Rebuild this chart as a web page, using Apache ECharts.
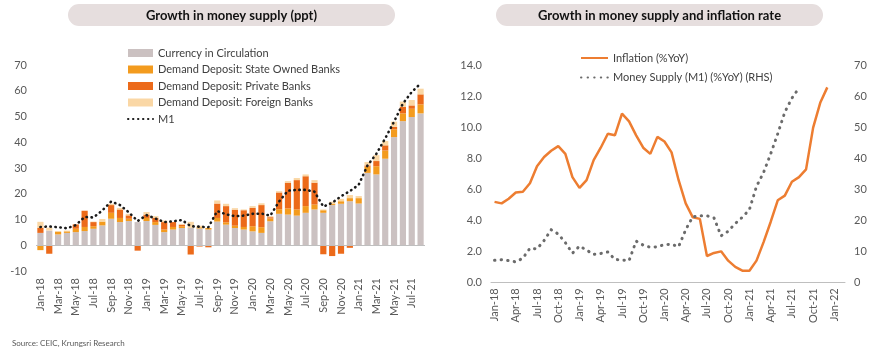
<!DOCTYPE html>
<html>
<head>
<meta charset="utf-8">
<script src="https://cdn.jsdelivr.net/npm/echarts@6/dist/echarts.min.js"></script>
<style>
html,body{margin:0;padding:0;background:#fff;}
#c{width:870px;height:354px;}
</style>
</head>
<body>
<div id="c"></div>
<script>
// ---------- Left chart data ----------
const monthsL = ['Jan-18','Feb-18','Mar-18','Apr-18','May-18','Jun-18','Jul-18','Aug-18','Sep-18','Oct-18','Nov-18','Dec-18',
'Jan-19','Feb-19','Mar-19','Apr-19','May-19','Jun-19','Jul-19','Aug-19','Sep-19','Oct-19','Nov-19','Dec-19',
'Jan-20','Feb-20','Mar-20','Apr-20','May-20','Jun-20','Jul-20','Aug-20','Sep-20','Oct-20','Nov-20','Dec-20',
'Jan-21','Feb-21','Mar-21','Apr-21','May-21','Jun-21','Jul-21','Aug-21'];
const currency = [4.8,5.7,4.2,4.8,5.1,5.5,6.4,7.7,10.3,9.0,9.4,9.0,
9.4,7.9,5.1,6.1,6.7,6.7,6.5,6.1,9.2,8.0,6.7,6.1,
5.4,4.8,9.3,12.2,11.9,11.5,12.6,13.9,12.6,15.6,16.1,17.1,
16.2,28.1,27.5,33.6,42.0,48.2,49.8,51.2];
const stateOwned = [-1.9,0,1.1,0.6,1.3,1.6,1.0,1.5,2.3,1.6,0.9,0,
1.2,1.1,1.0,1.0,0.7,0,0.5,0.6,1.4,0.9,0.9,1.0,
2.0,2.2,1.1,1.8,2.4,2.4,2.6,1.9,1.0,0.4,1.0,1.2,
2.1,2.4,3.2,3.2,3.0,3.0,3.2,3.5];
const privateBanks = [2.0,-3.3,0,0,1.7,6.3,1.6,0,3.0,3.3,1.3,-2.1,
1.3,1.6,2.9,1.9,0.6,-3.6,-0.5,-0.8,5.6,6.3,6.2,6.5,
7.1,8.6,0.5,6.5,10.0,11.4,11.6,8.5,-3.5,-4.2,-3.3,-1.0,
0,0.5,2.0,2.0,1.0,2.5,1.3,3.9];
const foreignBanks = [2.3,1.1,0,0.3,0,0,0.2,1.0,0.5,0.6,0.6,0,
1.0,0.7,0.6,0,0.3,2.4,0.6,0,1.2,0.9,0.6,0.3,
0.7,0.7,0.4,0.5,0.6,0.8,0.7,1.0,0.3,0.9,0.9,1.2,
0.8,1.3,2.3,1.7,2.0,2.1,2.1,2.2];
const m1 = [7.1,7.3,7.0,6.6,7.8,11.0,10.8,13.5,17.0,15.6,12.8,9.4,
11.7,10.4,9.0,9.3,9.8,7.4,7.2,7.0,13.3,12.0,11.3,11.5,
12.2,12.3,11.5,17.0,21.2,21.5,21.5,20.8,15.0,16.5,19.0,21.0,
23.5,31.0,35.5,41.5,48.0,55.0,59.5,62.8];
const yTicksL = [-10,0,10,20,30,40,50,60,70];

// ---------- Right chart data ----------
const monthsR = ['Jan-18','Feb-18','Mar-18','Apr-18','May-18','Jun-18','Jul-18','Aug-18','Sep-18','Oct-18','Nov-18','Dec-18',
'Jan-19','Feb-19','Mar-19','Apr-19','May-19','Jun-19','Jul-19','Aug-19','Sep-19','Oct-19','Nov-19','Dec-19',
'Jan-20','Feb-20','Mar-20','Apr-20','May-20','Jun-20','Jul-20','Aug-20','Sep-20','Oct-20','Nov-20','Dec-20',
'Jan-21','Feb-21','Mar-21','Apr-21','May-21','Jun-21','Jul-21','Aug-21','Sep-21','Oct-21','Nov-21','Dec-21',
'Jan-22','Feb-22'];
const inflation = [5.2,5.1,5.4,5.8,5.85,6.4,7.5,8.1,8.5,8.8,8.3,6.8,
6.1,6.6,7.9,8.7,9.6,9.5,10.9,10.4,9.5,8.7,8.3,9.4,
9.1,8.4,6.6,5.1,4.2,4.1,1.7,1.9,2.0,1.4,1.0,0.75,
0.75,1.4,2.6,3.9,5.3,5.6,6.5,6.8,7.3,10.0,11.6,12.6];
const inflationLastLabel = '12.6';
const yTicksRLeft = [0,2,4,6,8,10,12,14];
const yTicksRRight = [0,10,20,30,40,50,60,70];

const FONT = 'Lato, "Open Sans", sans-serif';
const C_CIC = '#CBC1C1', C_STATE = '#F39B1E', C_PRIV = '#EC6A1A', C_FOR = '#FAD7A5';
const HIDDEN_SYMBOL = {color: 'rgba(0,0,0,0)', borderWidth: 0, borderColor: 'rgba(0,0,0,0)'};

const pad = (arr, n) => arr.concat(new Array(n - arr.length).fill(null));
const inflData = pad(inflation, monthsR.length).map((v, i) =>
  i === inflation.length - 1 ? {value: v, label: {show: true, formatter: inflationLastLabel, position: 'top', offset: [8, 0], color: '#404040', fontSize: 11, fontFamily: FONT}} : v);

const chart = echarts.init(document.getElementById('c'), null, {renderer: 'canvas'});
const axisLabelStyle = {color: '#595959', fontSize: 11, fontFamily: FONT};

chart.setOption({
  animation: false,
  textStyle: {fontFamily: FONT},
  graphic: [
    {type: 'rect', shape: {x: 68, y: 4, width: 327, height: 22, r: 11}, style: {fill: '#E6DEDE'}},
    {type: 'text', style: {text: 'Growth in money supply (ppt)', x: 231.5, y: 15.5, align: 'center', verticalAlign: 'middle', font: 'bold 13px ' + FONT, fill: '#111'}},
    {type: 'rect', shape: {x: 496, y: 4, width: 327, height: 22, r: 11}, style: {fill: '#E6DEDE'}},
    {type: 'text', style: {text: 'Growth in money supply and inflation rate', x: 659.5, y: 15.5, align: 'center', verticalAlign: 'middle', font: 'bold 13px ' + FONT, fill: '#111'}},
    {type: 'text', style: {text: 'Source: CEIC, Krungsri Research', x: 12, y: 343, align: 'left', verticalAlign: 'middle', font: '8px ' + FONT, fill: '#595959'}}
  ],
  legend: [
    {
      orient: 'vertical', left: 122, top: 42.5, itemWidth: 25, itemHeight: 8, itemGap: 5.5,
      textStyle: {color: '#404040', fontSize: 11, fontFamily: FONT, lineHeight: 11},
      data: [
        {name: 'Currency in Circulation', icon: 'rect'},
        {name: 'Demand Deposit: State Owned Banks', icon: 'rect'},
        {name: 'Demand Deposit: Private Banks', icon: 'rect'},
        {name: 'Demand Deposit: Foreign Banks', icon: 'rect'},
        {name: 'M1', itemStyle: HIDDEN_SYMBOL}
      ]
    },
    {
      orient: 'vertical', left: 575, top: 47.5, itemWidth: 27, itemHeight: 11, itemGap: 8.4,
      textStyle: {color: '#404040', fontSize: 11, fontFamily: FONT, lineHeight: 11},
      data: [
        {name: 'Inflation (%YoY)', itemStyle: HIDDEN_SYMBOL},
        {name: 'Money Supply (M1) (%YoY) (RHS)', itemStyle: HIDDEN_SYMBOL}
      ]
    }
  ],
  grid: [
    {left: 36, right: 445, top: 65, bottom: 83},
    {left: 491, right: 25, top: 65.7, bottom: 71.7}
  ],
  xAxis: [
    {
      type: 'category', gridIndex: 0, data: monthsL, boundaryGap: true,
      axisLine: {show: false, onZero: false}, axisTick: {show: false},
      axisLabel: Object.assign({rotate: 90, interval: 1, margin: 7}, axisLabelStyle)
    },
    {
      type: 'category', gridIndex: 1, data: monthsR, boundaryGap: true,
      axisLine: {show: true, lineStyle: {color: '#BFBFBF', width: 1}}, axisTick: {show: false},
      axisLabel: Object.assign({rotate: 90, interval: 2, margin: 6}, axisLabelStyle)
    }
  ],
  yAxis: [
    {
      type: 'value', gridIndex: 0, min: yTicksL[0], max: yTicksL[yTicksL.length - 1], interval: 10,
      axisLine: {show: false}, axisTick: {show: false}, splitLine: {show: false},
      axisLabel: Object.assign({margin: 9}, axisLabelStyle)
    },
    {
      type: 'value', gridIndex: 1, min: yTicksRLeft[0], max: yTicksRLeft[yTicksRLeft.length - 1], interval: 2,
      axisLine: {show: false}, axisTick: {show: false}, splitLine: {show: false},
      axisLabel: Object.assign({margin: 9, formatter: v => v.toFixed(1)}, axisLabelStyle)
    },
    {
      type: 'value', gridIndex: 1, position: 'right', min: yTicksRRight[0], max: yTicksRRight[yTicksRRight.length - 1], interval: 10,
      axisLine: {show: false}, axisTick: {show: false}, splitLine: {show: false},
      axisLabel: Object.assign({margin: 9}, axisLabelStyle)
    }
  ],
  series: [
    {
      name: 'Currency in Circulation', type: 'bar', stack: 'L', xAxisIndex: 0, yAxisIndex: 0,
      data: currency, barWidth: '70%', itemStyle: {color: C_CIC},
      markLine: {silent: true, symbol: 'none', label: {show: false}, lineStyle: {color: '#BFBFBF', width: 1, type: 'solid'}, data: [{yAxis: 0}]}
    },
    {name: 'Demand Deposit: State Owned Banks', type: 'bar', stack: 'L', xAxisIndex: 0, yAxisIndex: 0, data: stateOwned, barWidth: '70%', itemStyle: {color: C_STATE}},
    {name: 'Demand Deposit: Private Banks', type: 'bar', stack: 'L', xAxisIndex: 0, yAxisIndex: 0, data: privateBanks, barWidth: '70%', itemStyle: {color: C_PRIV}},
    {name: 'Demand Deposit: Foreign Banks', type: 'bar', stack: 'L', xAxisIndex: 0, yAxisIndex: 0, data: foreignBanks, barWidth: '70%', itemStyle: {color: C_FOR}},
    {
      name: 'M1', type: 'line', xAxisIndex: 0, yAxisIndex: 0, data: m1, symbol: 'none', z: 5,
      lineStyle: {color: '#1A1A1A', width: 2.6, type: [0.4, 4.6], cap: 'round'}, itemStyle: {color: '#1A1A1A'}
    },
    {
      name: 'Inflation (%YoY)', type: 'line', xAxisIndex: 1, yAxisIndex: 1, data: inflData, symbol: 'none',
      lineStyle: {color: '#ED7D31', width: 2.5}, itemStyle: {color: '#ED7D31'}
    },
    {
      name: 'Money Supply (M1) (%YoY) (RHS)', type: 'line', xAxisIndex: 1, yAxisIndex: 2, data: pad(m1, monthsR.length), symbol: 'none',
      lineStyle: {color: '#6B6B6B', width: 3, type: [0.4, 6.2], cap: 'round'}, itemStyle: {color: '#6B6B6B'}
    }
  ]
});
</script>
</body>
</html>
